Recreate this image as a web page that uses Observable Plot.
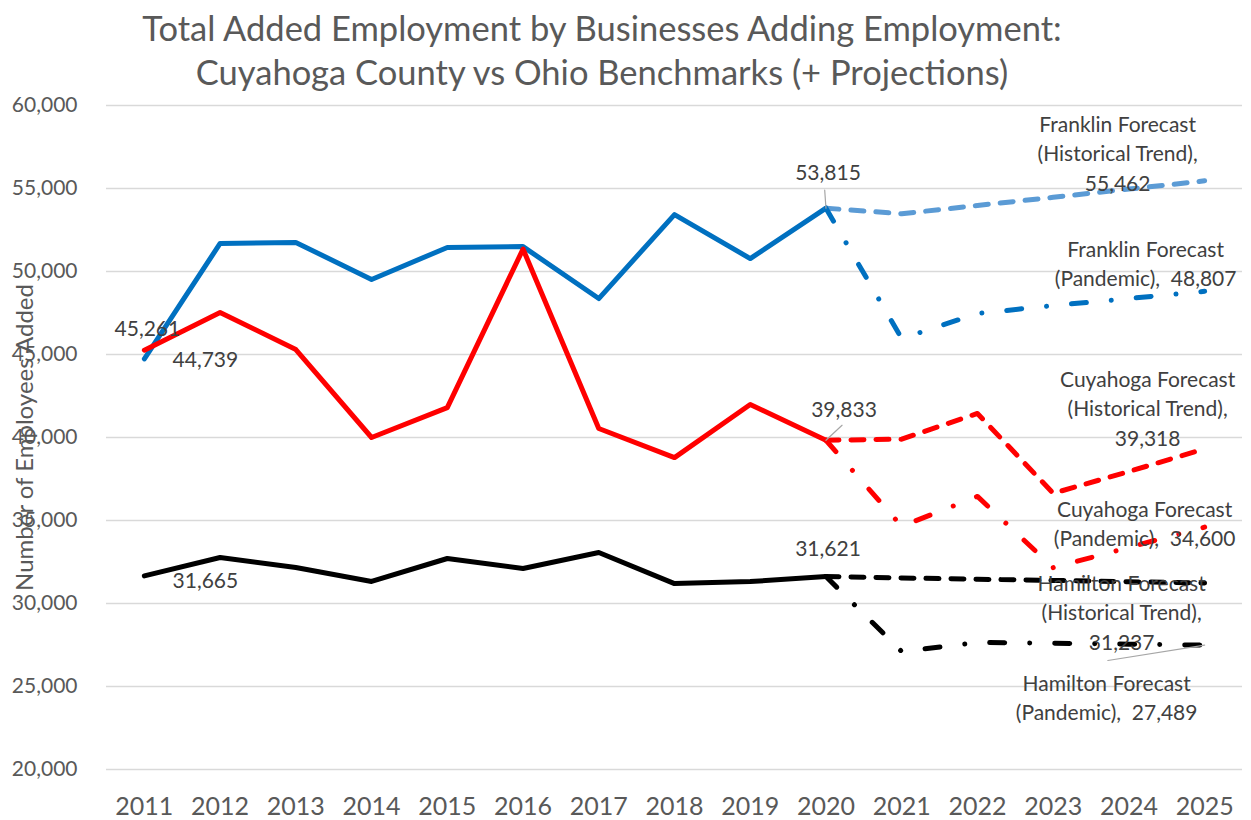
<!DOCTYPE html>
<html><head><meta charset="utf-8">
<script src="https://cdn.jsdelivr.net/npm/d3@7"></script>
<script src="https://cdn.jsdelivr.net/npm/@observablehq/plot@0.6"></script>
<style>
body{margin:0;background:#fff;font-family:Lato,sans-serif;}
#title{height:80px;box-sizing:border-box;padding-top:6px;text-align:center;font-size:34.5px;line-height:44px;color:#595959;width:1204px;white-space:nowrap;}
</style></head><body>
<div id="title">Total Added Employment by Businesses Adding Employment:<br>Cuyahoga County vs Ohio Benchmarks (+ Projections)</div>
<div id="chart"></div>
<script>
// ---- data ----
const years = [2011, 2012, 2013, 2014, 2015, 2016, 2017, 2018, 2019, 2020];
const forecastYears = [2020, 2021, 2022, 2023, 2024, 2025];
const allYears = [2011, 2012, 2013, 2014, 2015, 2016, 2017, 2018, 2019, 2020, 2021, 2022, 2023, 2024, 2025];
const yTicks = [20000, 25000, 30000, 35000, 40000, 45000, 50000, 55000, 60000];

const franklin = [44739, 51690, 51750, 49520, 51450, 51500, 48370, 53430, 50780, 53815];
const cuyahoga = [45261, 47530, 45300, 40000, 41800, 51350, 40540, 38790, 41990, 39833];
const hamilton = [31665, 32770, 32170, 31330, 32710, 32110, 33070, 31200, 31320, 31621];

const franklinHist = [53815, 53480, 53975, 54470, 54965, 55462];
const franklinPand = [53815, 45960, 47470, 47950, 48370, 48807];
const cuyahogaHist = [39833, 39900, 41450, 36640, 37950, 39318];
const cuyahogaPand = [39833, 34650, 36450, 32160, 33380, 34600];
const hamiltonHist = [31621, 31540, 31460, 31390, 31310, 31237];
const hamiltonPand = [31621, 27110, 27650, 27610, 27550, 27489];

const yAxisTitle = "Number of Employees Added";

// ---- helpers ----
const fmt = d3.format(",");
const rows = (xs, vs) => xs.map((x, i) => ({year: x, value: vs[i]}));
const last = (xs, vs) => [{year: xs[xs.length - 1], value: vs[vs.length - 1]}];
const first = (xs, vs) => [{year: xs[0], value: vs[0]}];

const solidW = 5;
const dash = "13,12";
const dashDot = "15,25,0.01,25";

function line(xs, vs, color, dasharray) {
  return Plot.line(rows(xs, vs), {
    x: "year", y: "value", stroke: color, strokeWidth: solidW,
    strokeLinejoin: "round", strokeLinecap: "round",
    strokeDasharray: dasharray
  });
}

function label(pt, text, dx, dy, opts = {}) {
  return Plot.text(pt, {
    x: "year", y: "value", text: () => text, dx, dy,
    fontSize: 21, fill: "#404040", lineAnchor: "middle", textAnchor: "middle",
    lineHeight: 1.4, ...opts
  });
}

const leaderShape = {draw(context, l) { context.moveTo(0, 0); context.lineTo(0, -l); }};
function leader(pt, length, rotate) {
  return Plot.vector(pt, {
    x: "year", y: "value", length, rotate, anchor: "start",
    shape: leaderShape, stroke: "#a6a6a6", strokeWidth: 1.2
  });
}

const chart = Plot.plot({
  width: 1251,
  height: 740,
  marginTop: 25,
  marginBottom: 51,
  marginLeft: 106,
  marginRight: 9,
  style: {fontFamily: "Lato, sans-serif", background: "#fff"},
  x: {domain: [2010.5, 2025.5]},
  y: {domain: [20000, 60000]},
  marks: [
    Plot.gridY({ticks: yTicks, stroke: "#d9d9d9", strokeOpacity: 1, strokeWidth: 1.3}),
    Plot.axisY({ticks: yTicks, tickSize: 0, tickPadding: 29, tickFormat: fmt, fontSize: 21, fill: "#595959", label: null}),
    Plot.axisX({ticks: allYears, tickSize: 0, tickPadding: 28, tickFormat: d => String(d), fontSize: 25, fill: "#595959", label: null}),
    Plot.text([yAxisTitle], {frameAnchor: "left", dx: -81, rotate: -90, textAnchor: "middle", lineAnchor: "middle", fontSize: 24, fill: "#595959"}),

    line(years, franklin, "#0070C0"),
    line(years, cuyahoga, "#FF0000"),
    line(years, hamilton, "#000000"),

    line(forecastYears, franklinHist, "#5B9BD5", dash),
    line(forecastYears, franklinPand, "#0070C0", dashDot),
    line(forecastYears, cuyahogaHist, "#FF0000", dash),
    line(forecastYears, cuyahogaPand, "#FF0000", dashDot),
    line(forecastYears, hamiltonHist, "#000000", dash),
    line(forecastYears, hamiltonPand, "#000000", dashDot),

    leader(last(years, franklin), 18, -4),
    leader(last(years, cuyahoga), 22, 47),
    leader(last(forecastYears, hamiltonPand), 98, -99),

    label(first(years, cuyahoga), fmt(cuyahoga[0]), 3, -24),
    label(first(years, franklin), fmt(franklin[0]), 61, -1),
    label(first(years, hamilton), fmt(hamilton[0]), 61, 3),
    label(last(years, franklin), fmt(franklin[franklin.length - 1]), 2, -38),
    label(last(years, cuyahoga), fmt(cuyahoga[cuyahoga.length - 1]), 18, -33),
    label(last(years, hamilton), fmt(hamilton[hamilton.length - 1]), 2, -30),

    label(last(forecastYears, franklinHist), `Franklin Forecast\n(Historical Trend),\n${fmt(franklinHist[5])}`, -87, -29),
    label(last(forecastYears, franklinPand), `Franklin Forecast\n(Pandemic),  ${fmt(franklinPand[5])}`, -59, -29),
    label(last(forecastYears, cuyahogaHist), `Cuyahoga Forecast\n(Historical Trend),\n${fmt(cuyahogaHist[5])}`, -57, -42),
    label(last(forecastYears, cuyahogaPand), `Cuyahoga Forecast\n(Pandemic),  ${fmt(cuyahogaPand[5])}`, -60, -5),
    label(last(forecastYears, hamiltonHist), `Hamilton Forecast\n(Historical Trend),\n${fmt(hamiltonHist[5])}`, -83, 28),
    label(last(forecastYears, hamiltonPand), `Hamilton Forecast\n(Pandemic),  ${fmt(hamiltonPand[5])}`, -98, 51)
  ]
});
document.getElementById("chart").appendChild(chart);
</script>
</body></html>
